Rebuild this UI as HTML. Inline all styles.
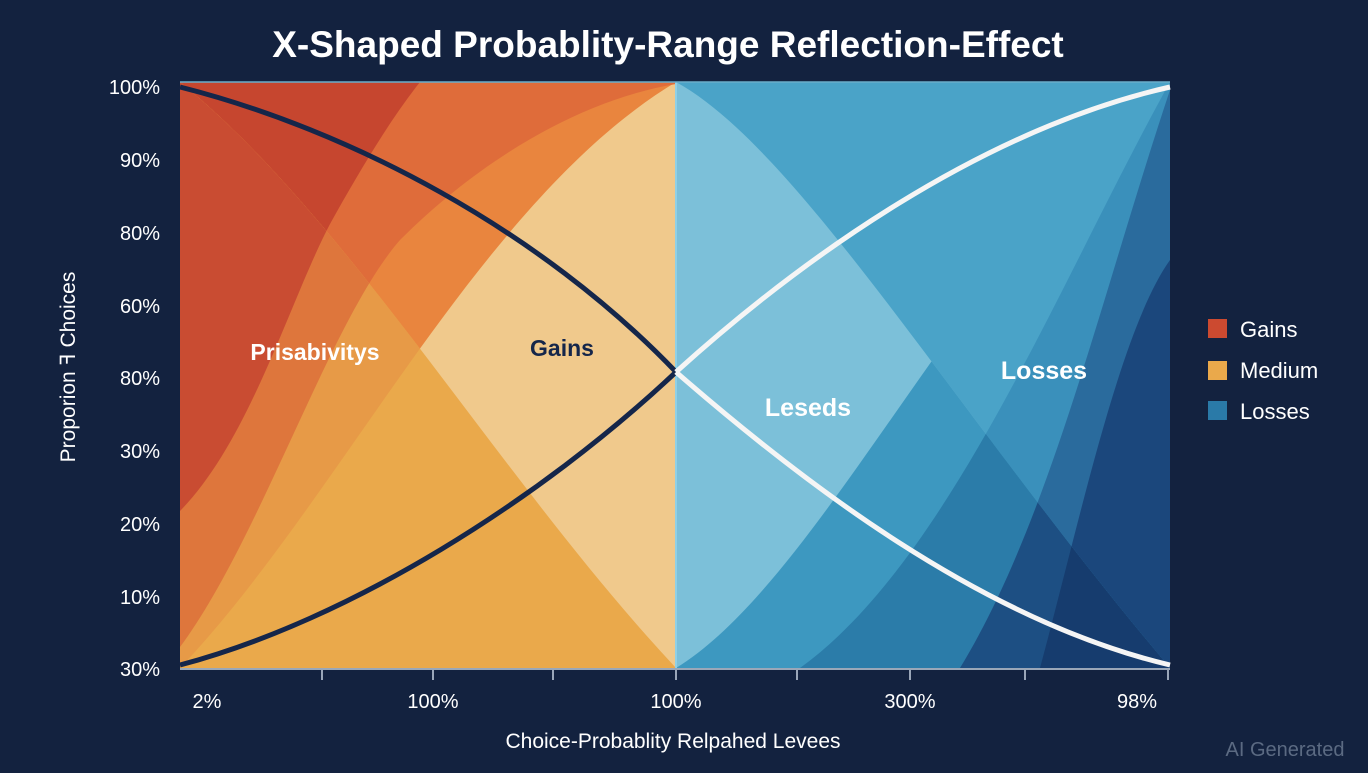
<!DOCTYPE html>
<html><head><style>
body{margin:0;background:#13223f;width:1368px;height:768px;overflow:hidden;font-family:"Liberation Sans",sans-serif}
</style></head><body>
<svg width="1368" height="768" viewBox="0 0 1368 768" xmlns="http://www.w3.org/2000/svg">
<rect width="1368" height="768" fill="#13223f"/>
<defs>
<clipPath id="L"><rect x="180" y="82" width="496" height="586"/></clipPath>
<clipPath id="R"><rect x="676" y="82" width="494" height="586"/></clipPath>
<clipPath id="belowB"><path d="M180,82 C350,220 500,480 676,668 L180,668 Z"/></clipPath>
<clipPath id="belowD"><path d="M676,82 C800,150 960,420 1170,668 L676,668 Z"/></clipPath>
<clipPath id="aboveD"><path d="M676,82 C800,150 960,420 1170,668 L1170,82 Z"/></clipPath>
</defs>
<g clip-path="url(#L)">
 <rect x="180" y="82" width="496" height="586" fill="#f0c98c"/>
 <path d="M180,668 C340,500 480,200 676,82 L180,82 Z" fill="#e9853e"/>
 <path d="M180,647 C260,540 330,320 400,240 C480,160 580,100 676,84 L676,82 L180,82 Z" fill="#df6c3a"/>
 <path d="M180,511 C250,440 290,300 330,224 C360,170 390,120 420,82 L180,82 Z" fill="#c6462f"/>
 <g clip-path="url(#belowB)">
  <rect x="180" y="82" width="496" height="586" fill="#eaa94b"/>
  <path d="M180,668 C340,500 480,200 676,82 L180,82 Z" fill="#e79a47"/>
  <path d="M180,647 C260,540 330,320 400,240 C480,160 580,100 676,84 L676,82 L180,82 Z" fill="#de763c"/>
  <path d="M180,511 C250,440 290,300 330,224 C360,170 390,120 420,82 L180,82 Z" fill="#c94c32"/>
 </g>
</g>
<g clip-path="url(#R)">
 <rect x="676" y="82" width="494" height="586" fill="#7cc0d9"/>
 <g clip-path="url(#aboveD)">
  <rect x="676" y="82" width="494" height="586" fill="#4aa3c8"/>
  <path d="M800,668 C950,560 1060,280 1170,82 L1170,668 Z" fill="#3a90bb"/>
  <path d="M960,668 C1050,520 1100,300 1170,90 L1170,668 Z" fill="#2a6b9d"/>
  <path d="M1040,668 C1080,520 1120,330 1170,260 L1170,668 Z" fill="#1b477c"/>
 </g>
 <g clip-path="url(#belowD)">
  <path d="M676,668 C820,580 960,260 1170,82 L1170,668 Z" fill="#3d98c0"/>
  <path d="M800,668 C950,560 1060,280 1170,82 L1170,668 Z" fill="#2b7ca9"/>
  <path d="M960,668 C1050,520 1100,300 1170,90 L1170,668 Z" fill="#1d4f83"/>
  <path d="M1040,668 C1080,520 1120,330 1170,260 L1170,668 Z" fill="#163c6e"/>
 </g>
</g>
<line x1="676" y1="82" x2="676" y2="668" stroke="#8fd0e6" stroke-width="2"/>
<path d="M180,87 C350,130 540,230 676,372" fill="none" stroke="#15264a" stroke-width="5"/>
<path d="M180,665 C350,620 540,500 676,372" fill="none" stroke="#15264a" stroke-width="5"/>
<path d="M676,372 C800,260 980,130 1170,87" fill="none" stroke="#f5f5f5" stroke-width="5"/>
<path d="M676,372 C800,480 980,620 1170,665" fill="none" stroke="#f5f5f5" stroke-width="5"/>
<line x1="180" y1="82" x2="1170" y2="82" stroke="#6aaecb" stroke-width="1.5"/>
<line x1="180" y1="669" x2="1170" y2="669" stroke="#c8d3e0" stroke-width="1.5"/>
<g stroke="#c8d3e0" stroke-width="1.5">
<line x1="322" y1="670" x2="322" y2="680"/><line x1="433" y1="670" x2="433" y2="680"/><line x1="553" y1="670" x2="553" y2="680"/><line x1="676" y1="670" x2="676" y2="680"/><line x1="797" y1="670" x2="797" y2="680"/><line x1="910" y1="670" x2="910" y2="680"/><line x1="1025" y1="670" x2="1025" y2="680"/><line x1="1168" y1="670" x2="1168" y2="680"/>
</g>
<text x="668" y="57" fill="#fff" font-size="37" font-weight="bold" text-anchor="middle">X-Shaped Probablity-Range Reflection-Effect</text>
<g fill="#fff" font-size="20" text-anchor="end">
<text x="160" y="94">100%</text><text x="160" y="167">90%</text><text x="160" y="240">80%</text><text x="160" y="313">60%</text><text x="160" y="385">80%</text><text x="160" y="458">30%</text><text x="160" y="531">20%</text><text x="160" y="604">10%</text><text x="160" y="676">30%</text>
</g>
<text transform="translate(75,367) rotate(-90)" fill="#fff" font-size="21" text-anchor="middle">Proporion ꟻ Choices</text>
<g fill="#fff" font-size="20" text-anchor="middle">
<text x="207" y="708">2%</text><text x="433" y="708">100%</text><text x="676" y="708">100%</text><text x="910" y="708">300%</text><text x="1137" y="708">98%</text>
</g>
<text x="673" y="748" fill="#fff" font-size="21" text-anchor="middle">Choice-Probablity Relpahed Levees</text>
<text x="315" y="360" fill="#fff" font-size="23" font-weight="bold" text-anchor="middle">Prisabivitys</text>
<text x="562" y="356" fill="#15264a" font-size="23" font-weight="bold" text-anchor="middle">Gains</text>
<text x="808" y="416" fill="#fff" font-size="25" font-weight="bold" text-anchor="middle">Leseds</text>
<text x="1044" y="379" fill="#fff" font-size="25" font-weight="bold" text-anchor="middle">Losses</text>
<rect x="1208" y="319" width="19" height="19" fill="#cc4a30"/>
<rect x="1208" y="361" width="19" height="19" fill="#eaa94b"/>
<rect x="1208" y="401" width="19" height="19" fill="#2a7aa8"/>
<g fill="#fff" font-size="22"><text x="1240" y="337">Gains</text><text x="1240" y="378">Medium</text><text x="1240" y="419">Losses</text></g>
<text x="1285" y="756" fill="#5b6a82" font-size="20" text-anchor="middle">AI Generated</text>
</svg>
</body></html>
